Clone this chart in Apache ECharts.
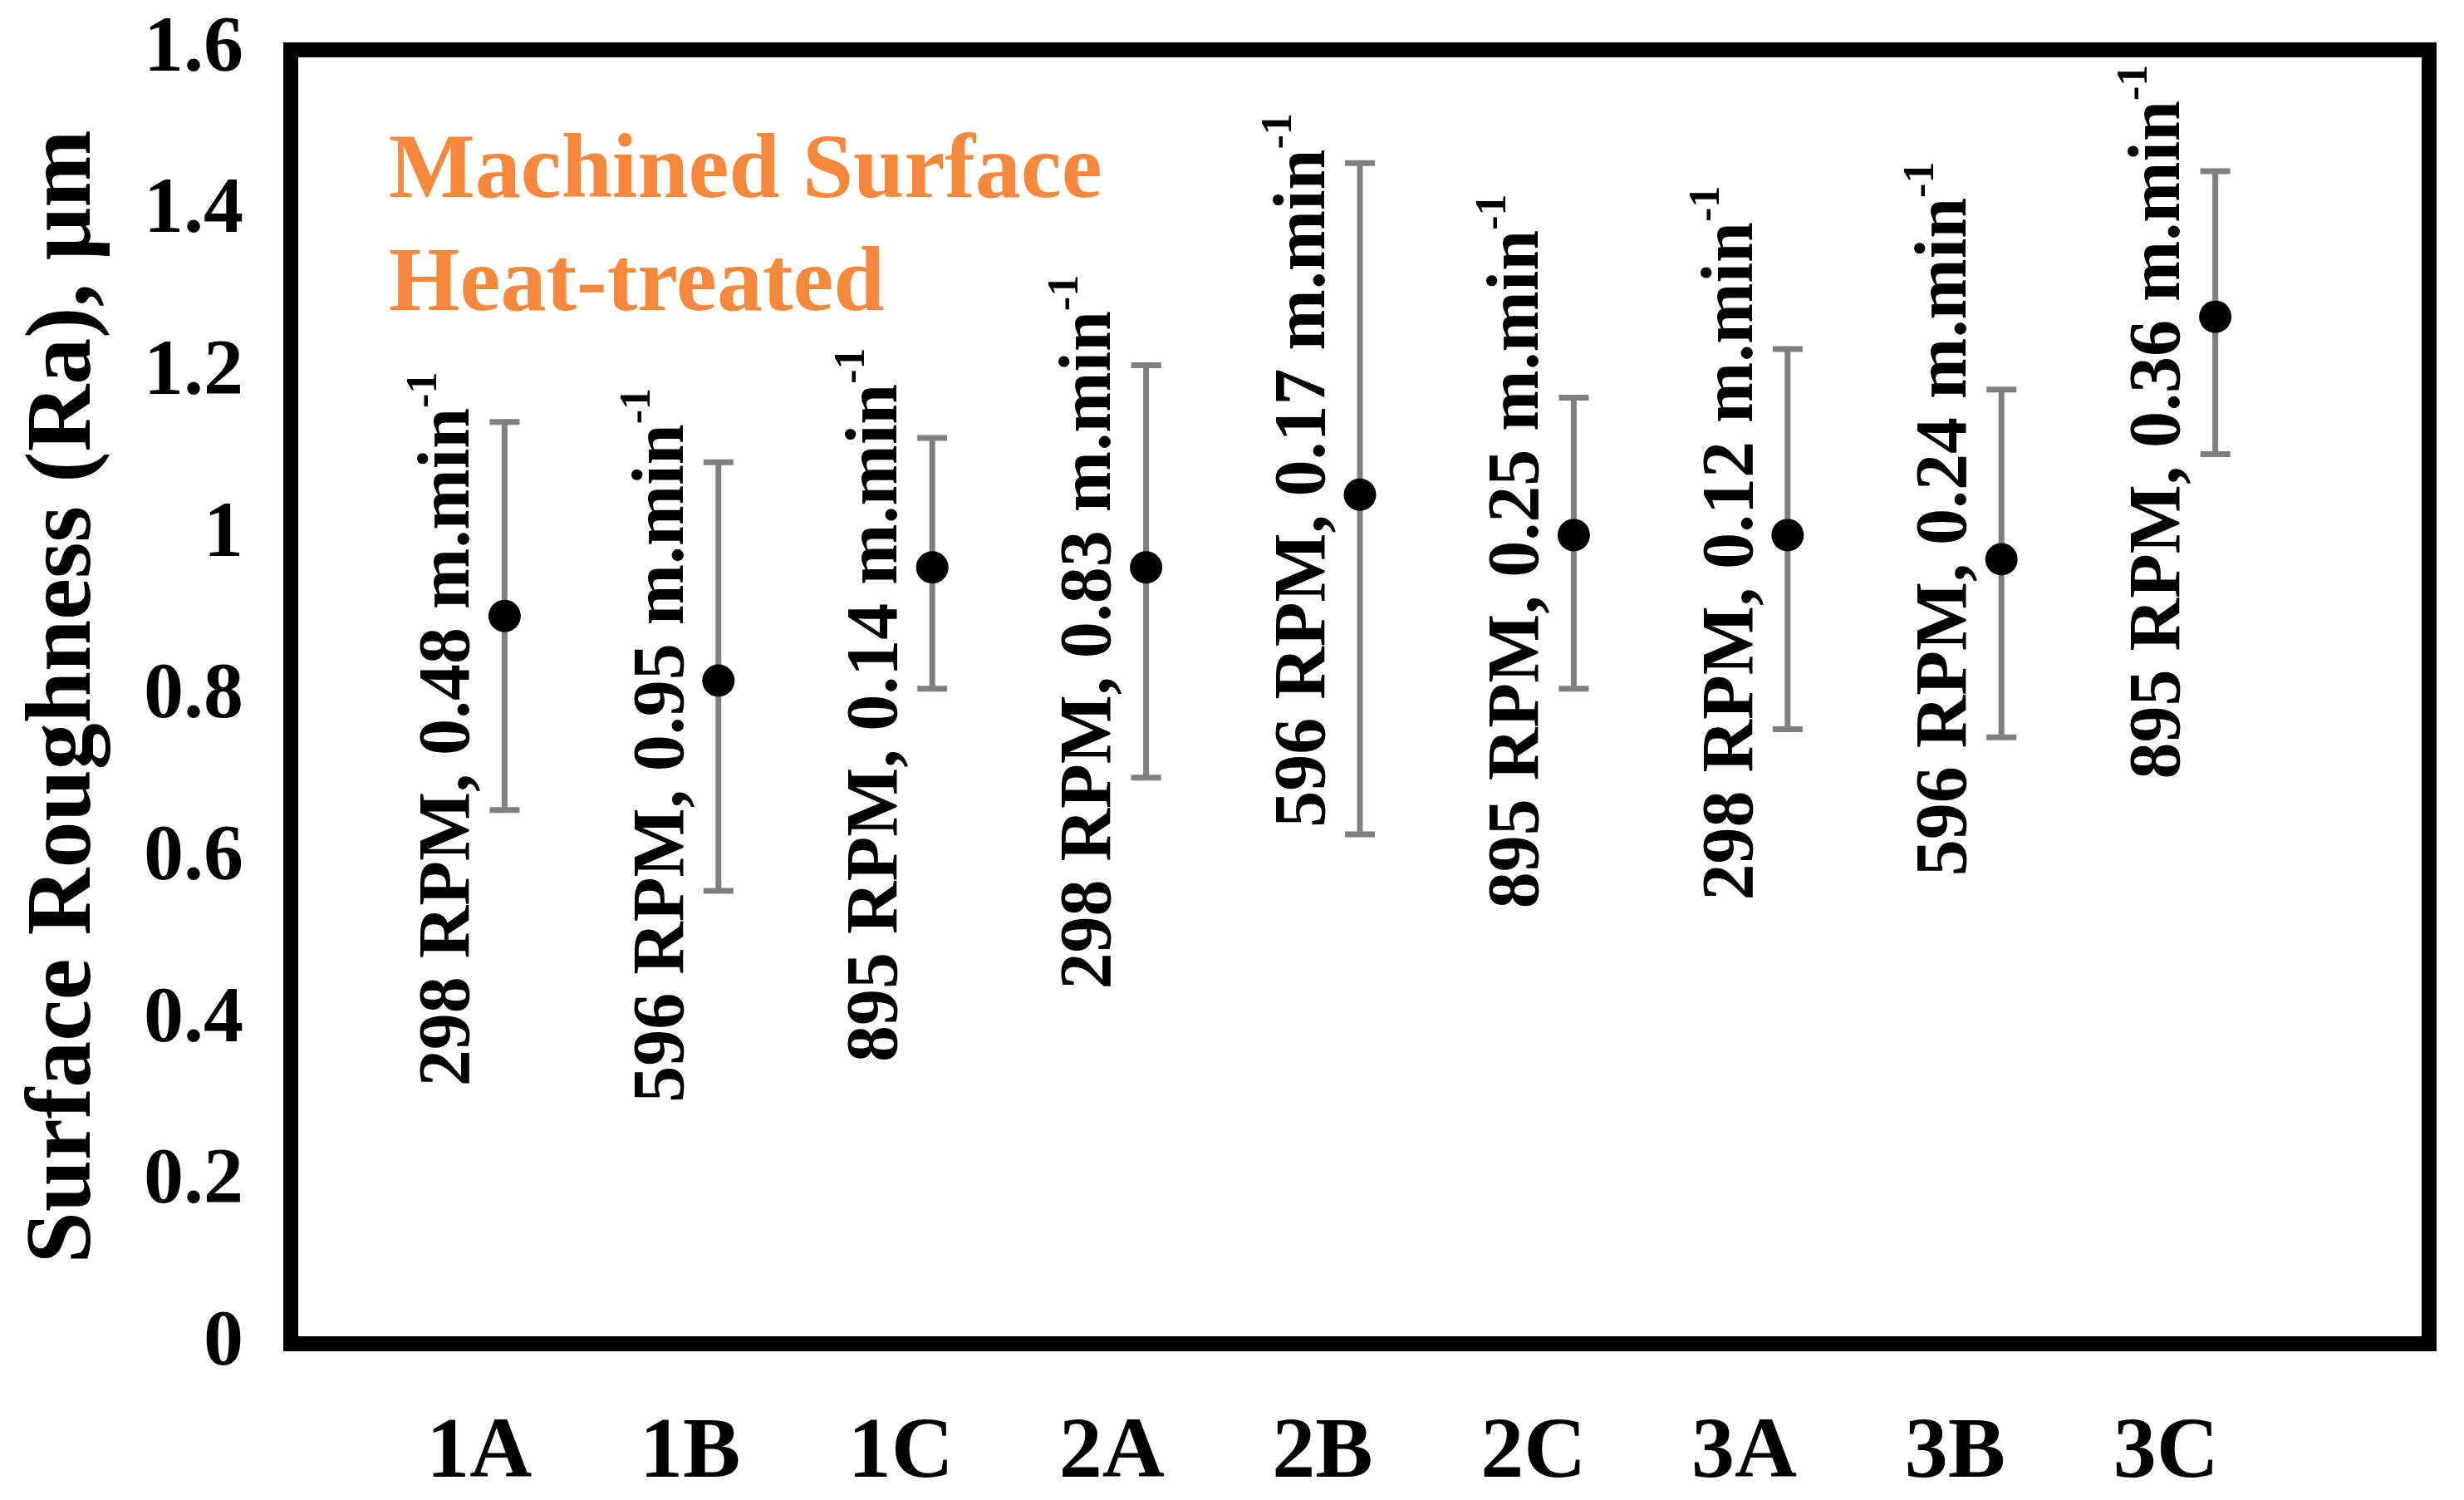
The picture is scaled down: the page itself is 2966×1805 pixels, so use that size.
<!DOCTYPE html>
<html>
<head>
<meta charset="utf-8">
<script src="https://cdn.jsdelivr.net/npm/echarts@6/dist/echarts.min.js"></script>
<style>
html, body { margin: 0; padding: 0; background: #fff; }
#main { width: 2966px; height: 1805px; }
</style>
</head>
<body>
<div id="main"></div>
<script>
// sample codes on the x axis
const categories = ['1A', '1B', '1C', '2A', '2B', '2C', '3A', '3B', '3C'];
// mean surface roughness Ra (um) and error bar ends
const meanRa  = [0.90, 0.82, 0.96, 0.96, 1.05, 1.00, 1.00, 0.97, 1.27];
const upperRa = [1.14, 1.09, 1.12, 1.21, 1.46, 1.17, 1.23, 1.18, 1.45];
const lowerRa = [0.66, 0.56, 0.81, 0.70, 0.63, 0.81, 0.76, 0.75, 1.10];
// cutting parameters written beside each point
const rpm  = ['298', '596', '895', '298', '596', '895', '298', '596', '895'];
const feed = ['0.48', '0.95', '0.14', '0.83', '0.17', '0.25', '0.12', '0.24', '0.36'];
// height (Ra units) of the middle of each vertical note
const noteY = [0.76, 0.74, 0.79, 0.88, 1.08, 0.98, 0.99, 1.02, 1.14];

const FONT = 'Liberation Serif';

let chart = echarts.init(document.getElementById('main'));

let pointData = meanRa.map((v, i) => [i + 1, v]);
let barData = meanRa.map((v, i) => [i + 1, lowerRa[i], upperRa[i]]);
let noteData = noteY.map((v, i) => [i + 1, v]);

let option = {
  animation: false,
  backgroundColor: '#fff',
  textStyle: { fontFamily: FONT, fontWeight: 'bold', color: '#000' },
  title: {
    text: 'Machined Surface\nHeat-treated',
    left: 463,
    top: 136,
    textStyle: {
      color: '#F7873A',
      fontFamily: FONT,
      fontWeight: 'bold',
      fontSize: 110,
      lineHeight: 136
    }
  },
  grid: [
    {
      left: 350, right: 42, top: 60, bottom: 188,
      show: true,
      borderColor: '#000',
      borderWidth: 18,
      backgroundColor: 'transparent'
    },
    // second grid only carries the category labels (they sit a bit left of the points)
    { left: 323, right: 105, top: 60, bottom: 188 }
  ],
  xAxis: [
    {
      type: 'value', gridIndex: 0, min: 0, max: 10, interval: 1,
      axisLine: { show: false }, axisTick: { show: false },
      axisLabel: { show: false }, splitLine: { show: false }
    },
    {
      type: 'value', gridIndex: 1, min: 0, max: 10, interval: 1,
      axisLine: { show: false }, axisTick: { show: false },
      splitLine: { show: false },
      axisLabel: {
        margin: 81,
        fontSize: 104,
        fontFamily: FONT,
        fontWeight: 'bold',
        color: '#000',
        formatter: v => categories[v - 1] || ''
      }
    }
  ],
  yAxis: [
    {
      type: 'value', gridIndex: 0, min: 0, max: 1.6, interval: 0.2,
      name: 'Surface Roughness (Ra), μm',
      nameLocation: 'middle',
      nameRotate: 90,
      nameGap: 215,
      nameTextStyle: { fontSize: 112, fontFamily: FONT, fontWeight: 'bold', color: '#000' },
      axisLine: { show: false }, axisTick: { show: false },
      splitLine: { show: false },
      axisLabel: { margin: 57, fontSize: 96, fontFamily: FONT, fontWeight: 'bold', color: '#000' }
    },
    {
      type: 'value', gridIndex: 1, min: 0, max: 1.6, show: false
    }
  ],
  series: [
    {
      name: 'errorbar',
      type: 'custom',
      xAxisIndex: 0, yAxisIndex: 0,
      data: barData,
      z: 2,
      renderItem: function (params, api) {
        let x = api.value(0);
        let lo = api.coord([x, api.value(1)]);
        let hi = api.coord([x, api.value(2)]);
        let cap = 18;
        let style = { stroke: '#7f7f7f', lineWidth: 7 };
        return {
          type: 'group',
          children: [
            { type: 'line', shape: { x1: hi[0], y1: hi[1], x2: lo[0], y2: lo[1] }, style: style },
            { type: 'line', shape: { x1: hi[0] - cap, y1: hi[1], x2: hi[0] + cap, y2: hi[1] }, style: style },
            { type: 'line', shape: { x1: lo[0] - cap, y1: lo[1], x2: lo[0] + cap, y2: lo[1] }, style: style }
          ]
        };
      }
    },
    {
      name: 'Ra',
      type: 'scatter',
      xAxisIndex: 0, yAxisIndex: 0,
      data: pointData,
      symbol: 'circle',
      symbolSize: 39,
      itemStyle: { color: '#000', opacity: 1 },
      z: 3
    },
    {
      name: 'notes',
      type: 'scatter',
      xAxisIndex: 0, yAxisIndex: 0,
      data: noteData,
      symbolSize: 0,
      silent: true,
      itemStyle: { opacity: 1 },
      z: 4,
      label: {
        show: true,
        position: 'inside',
        rotate: 90,
        offset: [0, -72],   // local frame is rotated, so this moves the text left
        opacity: 1,
        textBorderWidth: 0,
        formatter: p => '{a|' + rpm[p.dataIndex] + ' RPM, ' + feed[p.dataIndex] + ' m.min}{s|-1}',
        rich: {
          a: { fontSize: 88, fontFamily: FONT, fontWeight: 'bold', color: '#000', lineHeight: 100, verticalAlign: 'bottom' },
          s: { fontSize: 52, fontFamily: FONT, fontWeight: 'bold', color: '#000', lineHeight: 100, verticalAlign: 'top' }
        }
      }
    }
  ]
};

chart.setOption(option);
window.addEventListener('resize', chart.resize);
</script>
</body>
</html>
